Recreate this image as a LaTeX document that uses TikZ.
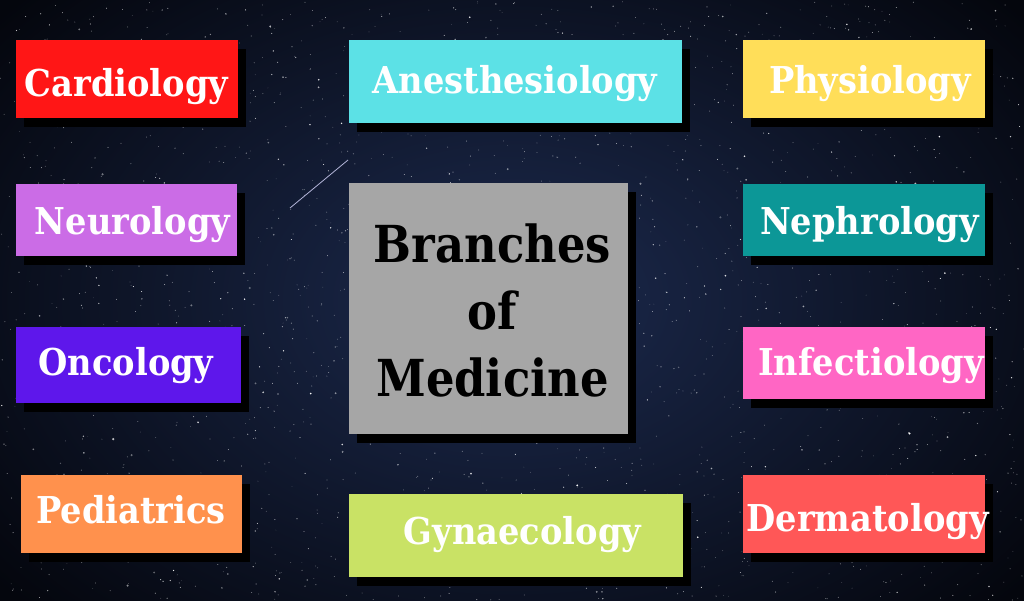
\documentclass[tikz,border=0pt]{standalone}
\usepackage{fontspec}
\setmainfont{DejaVu Serif}[FakeStretch=0.88]
\newfontfamily\labelfont{DejaVu Serif}[FakeStretch=0.91]
\usetikzlibrary{shadows}
\definecolor{bgdark}{HTML}{04060D}
\definecolor{bgnavy}{HTML}{1C2A4E}
\definecolor{cCard}{HTML}{FF1616}
\definecolor{cAnes}{HTML}{5CE1E6}
\definecolor{cPhys}{HTML}{FFDE59}
\definecolor{cNeuro}{HTML}{CB6CE6}
\definecolor{cNephro}{HTML}{0C9797}
\definecolor{cOnco}{HTML}{5E17EB}
\definecolor{cInfect}{HTML}{FF66C4}
\definecolor{cPedia}{HTML}{FF914D}
\definecolor{cGyna}{HTML}{C9E265}
\definecolor{cDerm}{HTML}{FF5757}
\definecolor{cGray}{HTML}{A6A6A6}
\tikzset{
  medbox/.style={draw=none, inner sep=0pt, rectangle,
    drop shadow={shadow xshift=8pt, shadow yshift=-9pt, fill=black, opacity=1}},
  medlabel/.style={anchor=base, inner sep=0pt, text=white,
    font=\labelfont\bfseries\fontsize{37}{44}\selectfont},
  centerlabel/.style={inner sep=0pt, text=black, align=center,
    font=\bfseries\fontsize{51}{67}\selectfont},
}
\begin{document}
\begin{tikzpicture}[x=1pt,y=-1pt]
\useasboundingbox (0,0) rectangle (1024,600);
% background
\fill[bgdark] (0,0) rectangle (1024,600);
\shade[inner color=bgnavy, outer color=bgdark] (-150,-150) rectangle (1174,750);
\pgfmathsetseed{7}
\foreach \i in {1,...,2200}{
  \pgfmathsetmacro{\sx}{rnd*1024}
  \pgfmathsetmacro{\sy}{rnd*600}
  \pgfmathsetmacro{\sr}{0.35+1.1*rnd*rnd*rnd}
  \pgfmathsetmacro{\so}{0.3+0.7*rnd}
  \fill[white, opacity=\so] (\sx,\sy) circle (\sr);
}
% shooting star
\coordinate (ssA) at (290,208);
\coordinate (ssB) at (348,160);
\draw[white!85!blue, line width=0.8pt, opacity=0.8] (ssA) -- (ssB);

% boxes
\node[medbox, fill=cCard,   minimum width=222pt, minimum height=78pt] (card)   at (127,79) {};
\node[medbox, fill=cAnes,   minimum width=333pt, minimum height=83pt] (anes)   at (515.5,81.5) {};
\node[medbox, fill=cPhys,   minimum width=242pt, minimum height=78pt] (phys)   at (864,79) {};
\node[medbox, fill=cNeuro,  minimum width=221pt, minimum height=72pt] (neuro)  at (126.5,220) {};
\node[medbox, fill=cNephro, minimum width=242pt, minimum height=72pt] (nephro) at (864,220) {};
\node[medbox, fill=cOnco,   minimum width=225pt, minimum height=76pt] (onco)   at (128.5,365) {};
\node[medbox, fill=cInfect, minimum width=242pt, minimum height=72pt] (infect) at (864,363) {};
\node[medbox, fill=cPedia,  minimum width=221pt, minimum height=78pt] (pedia)  at (131.5,514) {};
\node[medbox, fill=cGyna,   minimum width=334pt, minimum height=83pt] (gyna)   at (516,535.5) {};
\node[medbox, fill=cDerm,   minimum width=242pt, minimum height=78pt] (derm)   at (864,514) {};
\node[medbox, fill=cGray,   minimum width=279pt, minimum height=251pt] (center) at (488.5,308.5) {};

% labels
\node[medlabel] (cardT)   at (126.5,96) {Cardiology};
\node[medlabel] (anesT)   at (515,93) {Anesthesiology};
\node[medlabel] (physT)   at (870,93) {Physiology};
\node[medlabel] (neuroT)  at (132.5,234) {Neurology};
\node[medlabel] (nephroT) at (869.5,234) {Nephrology};
\node[medlabel] (oncoT)   at (126,375) {Oncology};
\node[medlabel] (infectT) at (871,375) {Infectiology};
\node[medlabel] (pediaT)  at (131,523) {Pediatrics};
\node[medlabel] (gynaT)   at (522.5,544) {Gynaecology};
\node[medlabel] (dermT)   at (867.5,531) {Dermatology};
\node[centerlabel] (centerT) at (492.5,310) {Branches\\of\\Medicine};
\end{tikzpicture}
\end{document}
